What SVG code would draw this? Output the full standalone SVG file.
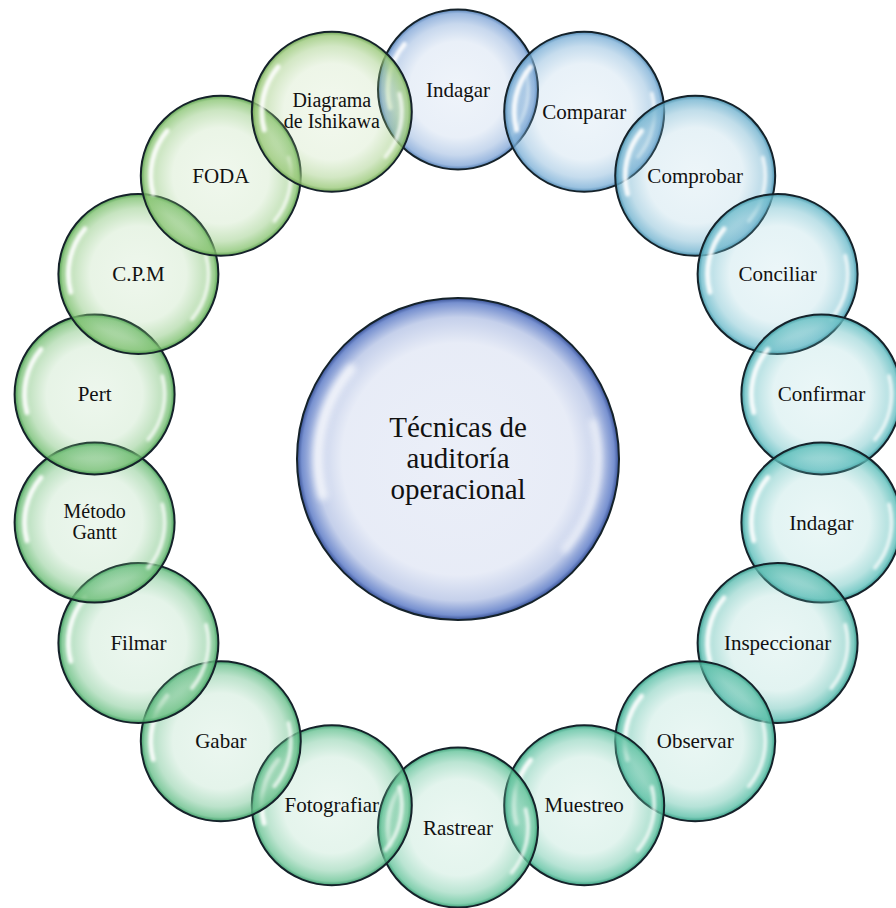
<svg xmlns="http://www.w3.org/2000/svg" xmlns:xlink="http://www.w3.org/1999/xlink" width="896" height="908" viewBox="0 0 896 908">
<style>
.b{stroke:#15222a;stroke-width:2}
.t{font-family:"Liberation Serif","Times New Roman",serif;font-size:21px;fill:#111;text-anchor:middle}
.t2{font-family:"Liberation Serif","Times New Roman",serif;font-size:20px;fill:#111;text-anchor:middle}
.tc{font-family:"Liberation Serif","Times New Roman",serif;font-size:29px;fill:#111;text-anchor:middle}
.hl{fill:none;stroke:#fff;stroke-linecap:round}
</style>
<defs>
<filter id="blur" x="-20%" y="-20%" width="140%" height="140%"><feGaussianBlur stdDeviation="1.6"/></filter>
<g id="shine" filter="url(#blur)">
<path class="hl" d="M -67.6 18.1 A 70 70 0 0 1 -53.6 -45" stroke-width="5" stroke-opacity="0.9"/>
<path class="hl" d="M 67.6 -18.1 A 70 70 0 0 1 53.6 45" stroke-width="4" stroke-opacity="0.75"/>
</g>
<radialGradient id="gc"><stop offset="0" stop-color="#4a6cc0" stop-opacity="0.11"/><stop offset="0.72" stop-color="#4a6cc0" stop-opacity="0.13"/><stop offset="0.88" stop-color="#4a6cc0" stop-opacity="0.32"/><stop offset="0.97" stop-color="#4a6cc0" stop-opacity="0.75"/><stop offset="1" stop-color="#2a448c" stop-opacity="0.95"/></radialGradient>
<radialGradient id="g0"><stop offset="0" stop-color="#84a8d8" stop-opacity="0.13"/><stop offset="0.6" stop-color="#84a8d8" stop-opacity="0.18"/><stop offset="0.82" stop-color="#84a8d8" stop-opacity="0.45"/><stop offset="0.95" stop-color="#84a8d8" stop-opacity="0.8"/><stop offset="1" stop-color="#4a78b0" stop-opacity="0.95"/></radialGradient>
<radialGradient id="g1"><stop offset="0" stop-color="#80b2d8" stop-opacity="0.13"/><stop offset="0.6" stop-color="#80b2d8" stop-opacity="0.18"/><stop offset="0.82" stop-color="#80b2d8" stop-opacity="0.45"/><stop offset="0.95" stop-color="#80b2d8" stop-opacity="0.8"/><stop offset="1" stop-color="#4a84b0" stop-opacity="0.95"/></radialGradient>
<radialGradient id="g2"><stop offset="0" stop-color="#74b4d0" stop-opacity="0.13"/><stop offset="0.6" stop-color="#74b4d0" stop-opacity="0.18"/><stop offset="0.82" stop-color="#74b4d0" stop-opacity="0.45"/><stop offset="0.95" stop-color="#74b4d0" stop-opacity="0.8"/><stop offset="1" stop-color="#3e88a6" stop-opacity="0.95"/></radialGradient>
<radialGradient id="g3"><stop offset="0" stop-color="#6ebccc" stop-opacity="0.13"/><stop offset="0.6" stop-color="#6ebccc" stop-opacity="0.18"/><stop offset="0.82" stop-color="#6ebccc" stop-opacity="0.45"/><stop offset="0.95" stop-color="#6ebccc" stop-opacity="0.8"/><stop offset="1" stop-color="#3a8ea0" stop-opacity="0.95"/></radialGradient>
<radialGradient id="g4"><stop offset="0" stop-color="#68c0c4" stop-opacity="0.13"/><stop offset="0.6" stop-color="#68c0c4" stop-opacity="0.18"/><stop offset="0.82" stop-color="#68c0c4" stop-opacity="0.45"/><stop offset="0.95" stop-color="#68c0c4" stop-opacity="0.8"/><stop offset="1" stop-color="#34929a" stop-opacity="0.95"/></radialGradient>
<radialGradient id="g5"><stop offset="0" stop-color="#60c0bc" stop-opacity="0.13"/><stop offset="0.6" stop-color="#60c0bc" stop-opacity="0.18"/><stop offset="0.82" stop-color="#60c0bc" stop-opacity="0.45"/><stop offset="0.95" stop-color="#60c0bc" stop-opacity="0.8"/><stop offset="1" stop-color="#309490" stop-opacity="0.95"/></radialGradient>
<radialGradient id="g6"><stop offset="0" stop-color="#5ebeb2" stop-opacity="0.13"/><stop offset="0.6" stop-color="#5ebeb2" stop-opacity="0.18"/><stop offset="0.82" stop-color="#5ebeb2" stop-opacity="0.45"/><stop offset="0.95" stop-color="#5ebeb2" stop-opacity="0.8"/><stop offset="1" stop-color="#2e9486" stop-opacity="0.95"/></radialGradient>
<radialGradient id="g7"><stop offset="0" stop-color="#5cc0a8" stop-opacity="0.13"/><stop offset="0.6" stop-color="#5cc0a8" stop-opacity="0.18"/><stop offset="0.82" stop-color="#5cc0a8" stop-opacity="0.45"/><stop offset="0.95" stop-color="#5cc0a8" stop-opacity="0.8"/><stop offset="1" stop-color="#2c967e" stop-opacity="0.95"/></radialGradient>
<radialGradient id="g8"><stop offset="0" stop-color="#60c2a2" stop-opacity="0.13"/><stop offset="0.6" stop-color="#60c2a2" stop-opacity="0.18"/><stop offset="0.82" stop-color="#60c2a2" stop-opacity="0.45"/><stop offset="0.95" stop-color="#60c2a2" stop-opacity="0.8"/><stop offset="1" stop-color="#2e9878" stop-opacity="0.95"/></radialGradient>
<radialGradient id="g9"><stop offset="0" stop-color="#66c49c" stop-opacity="0.13"/><stop offset="0.6" stop-color="#66c49c" stop-opacity="0.18"/><stop offset="0.82" stop-color="#66c49c" stop-opacity="0.45"/><stop offset="0.95" stop-color="#66c49c" stop-opacity="0.8"/><stop offset="1" stop-color="#329a70" stop-opacity="0.95"/></radialGradient>
<radialGradient id="g10"><stop offset="0" stop-color="#6cc496" stop-opacity="0.13"/><stop offset="0.6" stop-color="#6cc496" stop-opacity="0.18"/><stop offset="0.82" stop-color="#6cc496" stop-opacity="0.45"/><stop offset="0.95" stop-color="#6cc496" stop-opacity="0.8"/><stop offset="1" stop-color="#36986a" stop-opacity="0.95"/></radialGradient>
<radialGradient id="g11"><stop offset="0" stop-color="#6ac08c" stop-opacity="0.13"/><stop offset="0.6" stop-color="#6ac08c" stop-opacity="0.18"/><stop offset="0.82" stop-color="#6ac08c" stop-opacity="0.45"/><stop offset="0.95" stop-color="#6ac08c" stop-opacity="0.8"/><stop offset="1" stop-color="#349660" stop-opacity="0.95"/></radialGradient>
<radialGradient id="g12"><stop offset="0" stop-color="#6cc084" stop-opacity="0.13"/><stop offset="0.6" stop-color="#6cc084" stop-opacity="0.18"/><stop offset="0.82" stop-color="#6cc084" stop-opacity="0.45"/><stop offset="0.95" stop-color="#6cc084" stop-opacity="0.8"/><stop offset="1" stop-color="#369658" stop-opacity="0.95"/></radialGradient>
<radialGradient id="g13"><stop offset="0" stop-color="#72c07c" stop-opacity="0.13"/><stop offset="0.6" stop-color="#72c07c" stop-opacity="0.18"/><stop offset="0.82" stop-color="#72c07c" stop-opacity="0.45"/><stop offset="0.95" stop-color="#72c07c" stop-opacity="0.8"/><stop offset="1" stop-color="#3a9650" stop-opacity="0.95"/></radialGradient>
<radialGradient id="g14"><stop offset="0" stop-color="#78c076" stop-opacity="0.13"/><stop offset="0.6" stop-color="#78c076" stop-opacity="0.18"/><stop offset="0.82" stop-color="#78c076" stop-opacity="0.45"/><stop offset="0.95" stop-color="#78c076" stop-opacity="0.8"/><stop offset="1" stop-color="#40964a" stop-opacity="0.95"/></radialGradient>
<radialGradient id="g15"><stop offset="0" stop-color="#80c272" stop-opacity="0.13"/><stop offset="0.6" stop-color="#80c272" stop-opacity="0.18"/><stop offset="0.82" stop-color="#80c272" stop-opacity="0.45"/><stop offset="0.95" stop-color="#80c272" stop-opacity="0.8"/><stop offset="1" stop-color="#489846" stop-opacity="0.95"/></radialGradient>
<radialGradient id="g16"><stop offset="0" stop-color="#8cc676" stop-opacity="0.13"/><stop offset="0.6" stop-color="#8cc676" stop-opacity="0.18"/><stop offset="0.82" stop-color="#8cc676" stop-opacity="0.45"/><stop offset="0.95" stop-color="#8cc676" stop-opacity="0.8"/><stop offset="1" stop-color="#549a48" stop-opacity="0.95"/></radialGradient>
<radialGradient id="g17"><stop offset="0" stop-color="#9cca7c" stop-opacity="0.13"/><stop offset="0.6" stop-color="#9cca7c" stop-opacity="0.18"/><stop offset="0.82" stop-color="#9cca7c" stop-opacity="0.45"/><stop offset="0.95" stop-color="#9cca7c" stop-opacity="0.8"/><stop offset="1" stop-color="#649c4a" stop-opacity="0.95"/></radialGradient>
</defs>
<rect width="896" height="908" fill="#fff"/>
<g id="connectors"></g>
<g id="center" transform="translate(458,459)">
<circle r="161" fill="url(#gc)" class="b"/>
<use href="#shine" transform="scale(2)" opacity="0.8"/>
<text class="tc" x="0" y="-22.5">Técnicas de</text>
<text class="tc" x="0" y="8.5">auditoría</text>
<text class="tc" x="0" y="39.5">operacional</text>
</g>
<g id="n0" transform="translate(458,89.5)"><circle r="80" fill="url(#g0)" class="b"/><use href="#shine"/><text class="t" y="7">Indagar</text></g>
<g id="n1" transform="translate(584.2,111.8)"><circle r="80" fill="url(#g1)" class="b"/><use href="#shine"/><text class="t" y="7">Comparar</text></g>
<g id="n2" transform="translate(695.2,175.8)"><circle r="80" fill="url(#g2)" class="b"/><use href="#shine"/><text class="t" y="7">Comprobar</text></g>
<g id="n3" transform="translate(777.6,274)"><circle r="80" fill="url(#g3)" class="b"/><use href="#shine"/><text class="t" y="7">Conciliar</text></g>
<g id="n4" transform="translate(821.4,394.4)"><circle r="80" fill="url(#g4)" class="b"/><use href="#shine"/><text class="t" y="7">Confirmar</text></g>
<g id="n5" transform="translate(821.4,522.6)"><circle r="80" fill="url(#g5)" class="b"/><use href="#shine"/><text class="t" y="7">Indagar</text></g>
<g id="n6" transform="translate(777.6,643)"><circle r="80" fill="url(#g6)" class="b"/><use href="#shine"/><text class="t" y="7">Inspeccionar</text></g>
<g id="n7" transform="translate(695.2,741.2)"><circle r="80" fill="url(#g7)" class="b"/><use href="#shine"/><text class="t" y="7">Observar</text></g>
<g id="n8" transform="translate(584.2,805.2)"><circle r="80" fill="url(#g8)" class="b"/><use href="#shine"/><text class="t" y="7">Muestreo</text></g>
<g id="n9" transform="translate(458,827.5)"><circle r="80" fill="url(#g9)" class="b"/><use href="#shine"/><text class="t" y="7">Rastrear</text></g>
<g id="n10" transform="translate(331.8,805.2)"><circle r="80" fill="url(#g10)" class="b"/><use href="#shine"/><text class="t" y="7">Fotografiar</text></g>
<g id="n11" transform="translate(220.8,741.2)"><circle r="80" fill="url(#g11)" class="b"/><use href="#shine"/><text class="t" y="7">Gabar</text></g>
<g id="n12" transform="translate(138.4,643)"><circle r="80" fill="url(#g12)" class="b"/><use href="#shine"/><text class="t" y="7">Filmar</text></g>
<g id="n13" transform="translate(94.6,522.6)"><circle r="80" fill="url(#g13)" class="b"/><use href="#shine"/><text class="t2" y="-5">Método</text><text class="t2" y="16.5">Gantt</text></g>
<g id="n14" transform="translate(94.6,394.4)"><circle r="80" fill="url(#g14)" class="b"/><use href="#shine"/><text class="t" y="7">Pert</text></g>
<g id="n15" transform="translate(138.4,274)"><circle r="80" fill="url(#g15)" class="b"/><use href="#shine"/><text class="t" y="7">C.P.M</text></g>
<g id="n16" transform="translate(220.8,175.8)"><circle r="80" fill="url(#g16)" class="b"/><use href="#shine"/><text class="t" y="7">FODA</text></g>
<g id="n17" transform="translate(331.8,111.8)"><circle r="80" fill="url(#g17)" class="b"/><use href="#shine"/><text class="t2" y="-5">Diagrama</text><text class="t2" y="16.5">de Ishikawa</text></g>
</svg>
